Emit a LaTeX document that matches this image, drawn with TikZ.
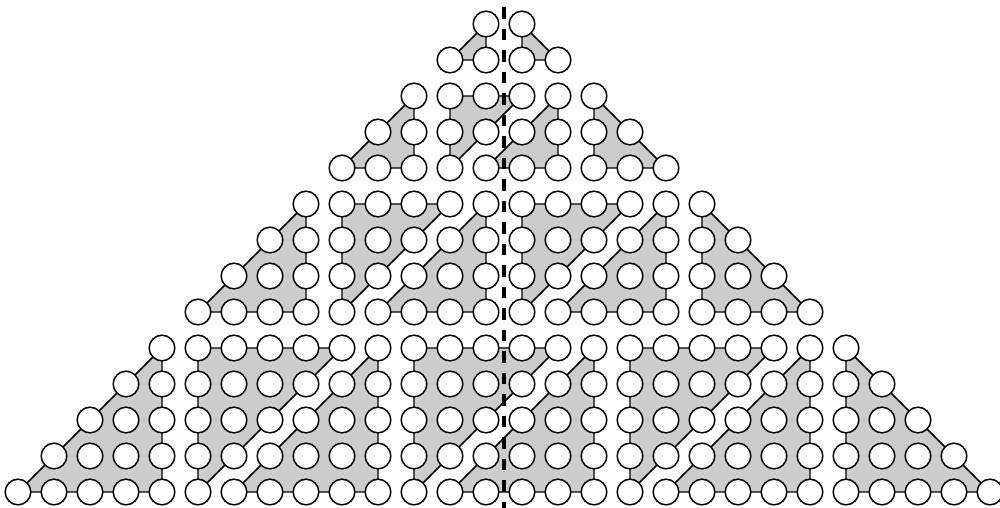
\documentclass[tikz,border=0pt]{standalone}
\begin{document}
\begin{tikzpicture}[declare function={cR = 0.356; xM = 13.5;},x=0.6cm,y=0.6cm,line join=round,line cap=round,
	tri/.style={fill=gray!40,draw=black,line width=0.7pt},
	dot/.style={fill=white,draw=black,line width=0.7pt}]
	\useasboundingbox (-0.5,0.667) rectangle (27.278,-13.444);
	
	\foreach \nR in {2,3,4,5}{
		\pgfmathtruncatemacro\rT{\nR*(\nR-1)/2-1}
		\pgfmathtruncatemacro\rB{\rT+\nR-1}
		\pgfmathtruncatemacro\nL{\nR-1}
		\pgfmathtruncatemacro\cS{14-(\nR*\nR+\nR-2)/2}
		\pgfmathtruncatemacro\cE{\cS+\nR*\nR+\nR-3}
		\filldraw[tri] (\cS+\nL,-\rT) -- (\cS,-\rB) -- (\cS+\nL,-\rB) -- cycle;
		\filldraw[tri] (\cE-\nL,-\rT) -- (\cE-\nL,-\rB) -- (\cE,-\rB) -- cycle;
		\ifnum\nR>2
			\pgfmathtruncatemacro\nQ{\nR-2}
			\foreach \k in {1,...,\nQ}{
				\pgfmathtruncatemacro\cP{\cS+\nR+(\k-1)*(\nR+1)}
				\filldraw[tri] (\cP,-\rT) -- (\cP+\nL,-\rT) -- (\cP,-\rB) -- cycle;
				\filldraw[tri] (\cP+\nL+1,-\rT) -- (\cP+1,-\rB) -- (\cP+\nL+1,-\rB) -- cycle;
			}
		\fi
		\foreach \j in {0,...,\nL}{
			\pgfmathtruncatemacro\cLo{\cS+\nL-\j}
			\pgfmathtruncatemacro\cHi{\cE-\nL+\j}
			\foreach \x in {\cLo,...,\cHi}
				\filldraw[dot] (\x,-\rT-\j) circle (cR);
		}
	}
	
	\draw[line width=2pt,dash pattern=on 5.5pt off 4.7pt,line cap=butt] (xM,0.472) -- (xM,-13.444);
\end{tikzpicture}
\end{document}
